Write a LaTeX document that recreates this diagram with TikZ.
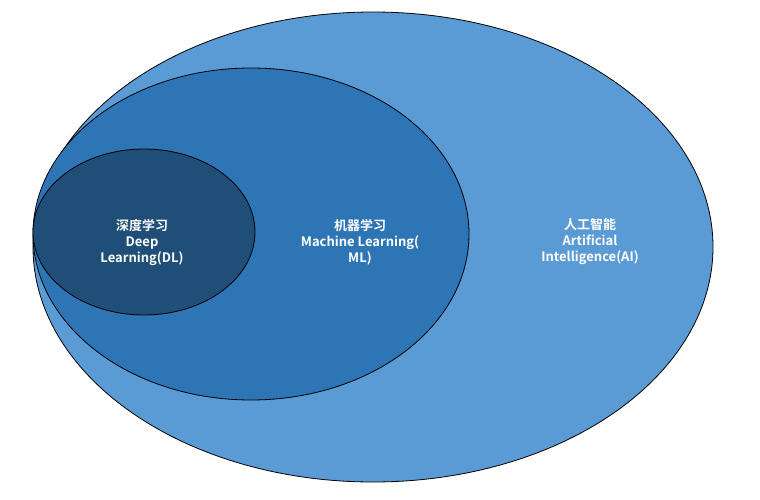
\documentclass[tikz,border=0pt]{standalone}
\usepackage{fontspec}
\newfontfamily\cjk{Noto Sans CJK SC}[BoldFont={Noto Sans CJK SC Bold}]
\definecolor{aiblue}{HTML}{5B9BD5}
\definecolor{mlblue}{HTML}{2E75B6}
\definecolor{dlblue}{HTML}{1F4E79}
\begin{document}
\begin{tikzpicture}[x=1pt,y=-1pt,
  field/.style={draw=black,line width=0.8pt},
  caption/.style={text=white,font=\cjk\bfseries\fontsize{13}{16}\selectfont,align=center}]
%
\useasboundingbox (0,0) rectangle (760,500);
%
\draw[field,fill=aiblue] (373,247) ellipse [x radius=340,y radius=235];
\draw[field,fill=mlblue] (251,234) ellipse [x radius=218,y radius=166];
\draw[field,fill=dlblue] (144,232) ellipse [x radius=111,y radius=83];
%
\node[caption] (dl) at (142,242) {深度学习\\Deep\\Learning(DL)};
\node[caption] (ml) at (360,242) {机器学习\\Machine Learning(\\ML)};
\node[caption] (ai) at (590,242) {人工智能\\Artificial\\Intelligence(AI)};
%
\end{tikzpicture}
\end{document}
